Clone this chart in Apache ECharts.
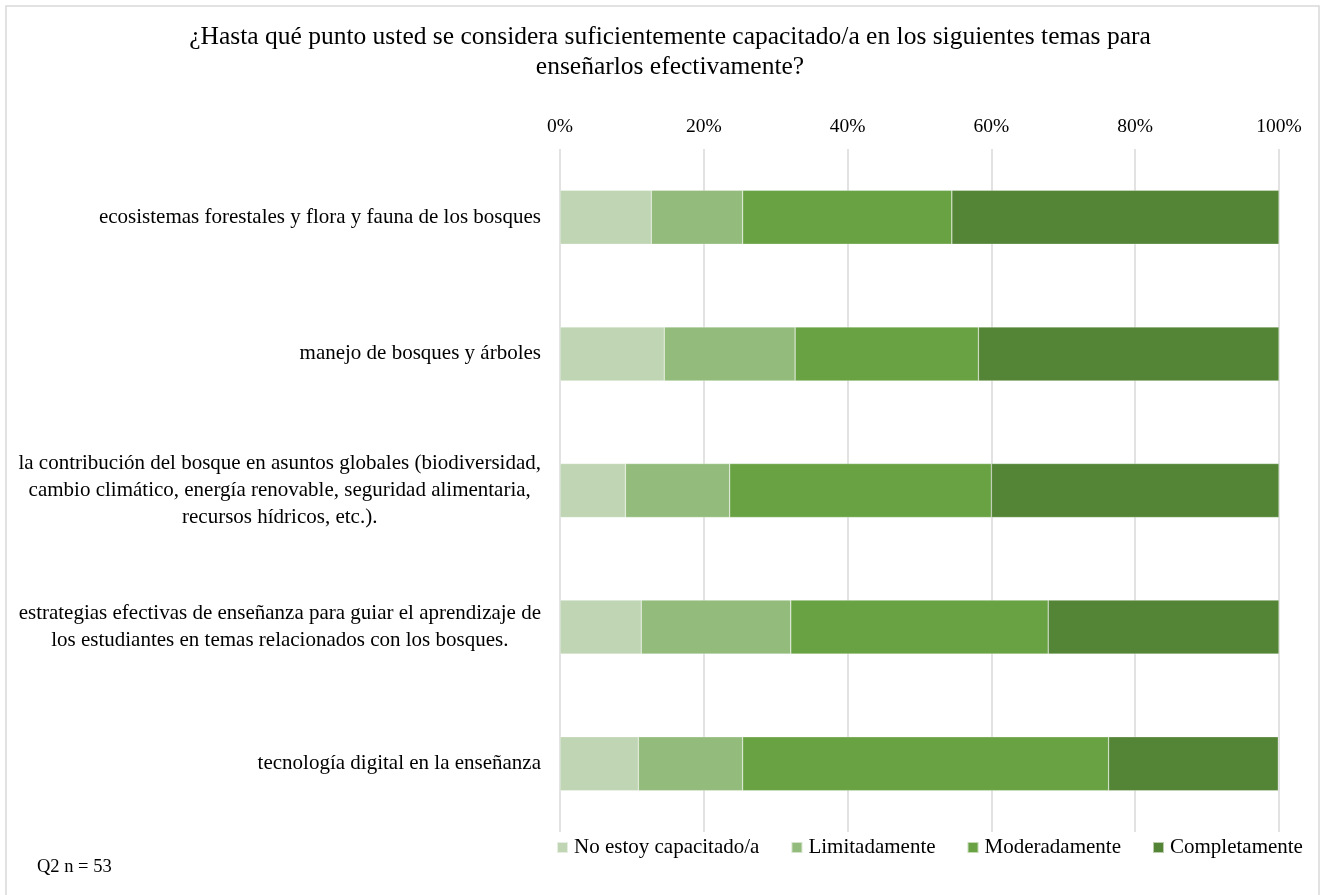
<!DOCTYPE html>
<html>
<head>
<meta charset="utf-8">
<script src="https://cdn.jsdelivr.net/npm/echarts@6/dist/echarts.min.js"></script>
<style>html,body{margin:0;padding:0;background:#fff;}#c{width:1325px;height:895px;}</style>
</head>
<body>
<div id="c"></div>
<script>
const categories = [
  'ecosistemas forestales y flora y fauna de los bosques',
  'manejo de bosques y árboles',
  'la contribución del bosque en asuntos globales (biodiversidad,\ncambio climático, energía renovable, seguridad alimentaria,\nrecursos hídricos, etc.).',
  'estrategias efectivas de enseñanza para guiar el aprendizaje de\nlos estudiantes en temas relacionados con los bosques.',
  'tecnología digital en la enseñanza'
];
const seriesNames = ['No estoy capacitado/a', 'Limitadamente', 'Moderadamente', 'Completamente'];
const noCapacitado = [12.7, 14.5, 9.1, 11.3, 10.9];
const limitadamente = [12.7, 18.2, 14.5, 20.8, 14.5];
const moderadamente = [29.1, 25.5, 36.4, 35.8, 50.9];
const completamente = [45.5, 41.8, 40.0, 32.1, 23.6];
const tickValues = [0, 20, 40, 60, 80, 100];
const colors = ['#bfd5b4', '#93bb7c', '#69a243', '#548435'];
const serif = '"Liberation Serif", "DejaVu Serif", serif';

const chart = echarts.init(document.getElementById('c'));
const allData = [noCapacitado, limitadamente, moderadamente, completamente];
chart.setOption({
  animation: false,
  backgroundColor: '#fff',
  color: colors,
  title: {
    text: '¿Hasta qué punto usted se considera suficientemente capacitado/a en los siguientes temas para\nenseñarlos efectivamente?',
    left: 665, top: 17, textAlign: 'center',
    textStyle: { fontFamily: serif, fontSize: 25.5, fontWeight: 'normal', color: '#000', lineHeight: 30 }
  },
  graphic: [
    { type: 'rect', shape: { x: 6, y: 6, width: 1313, height: 900 }, style: { fill: 'none', stroke: '#d9d9d9', lineWidth: 1.5 }, silent: true },
    { type: 'text', left: 37, top: 858, style: { text: 'Q2 n = 53', font: '18.5px ' + serif, fill: '#000' } }
  ],
  legend: {
    data: seriesNames,
    left: 556, top: 837, padding: 0,
    icon: 'rect', itemWidth: 11, itemHeight: 11, itemGap: 31,
    textStyle: { fontFamily: serif, fontSize: 21, color: '#000', padding: [0,0,0,1] }
  },
  grid: { left: 560, right: 46, top: 149, bottom: 63 },
  xAxis: {
    type: 'value', position: 'top', min: 0, max: 100, interval: 20,
    axisLine: { show: false }, axisTick: { show: false },
    axisLabel: { formatter: v => tickValues.includes(v) ? v + '%' : '', fontFamily: serif, fontSize: 19.5, color: '#000', margin: 12 },
    splitLine: { show: true, lineStyle: { color: '#d9d9d9', width: 1.5 } }
  },
  yAxis: {
    type: 'category', inverse: true, data: categories,
    axisLine: { show: false }, axisTick: { show: false },
    axisLabel: {
      margin: 19, align: 'right',
      formatter: v => v.split('\n').map(l => '{c|' + l + '}').join('\n'),
      rich: { c: { align: 'center', fontFamily: serif, fontSize: 21, color: '#000', lineHeight: 27 } }
    }
  },
  series: seriesNames.map((n, i) => ({
    name: n, type: 'bar', stack: 'total', barWidth: 54,
    data: allData[i],
    itemStyle: { color: colors[i], borderColor: 'rgba(255,255,255,0.6)', borderWidth: 0.5 }
  }))
});
</script>
</body>
</html>
